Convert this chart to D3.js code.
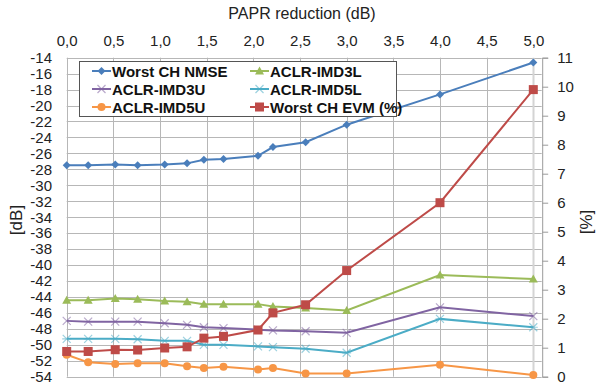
<!DOCTYPE html>
<html>
<head>
<meta charset="utf-8">
<script src="https://cdn.jsdelivr.net/npm/d3@7"></script>
<style>
  body { margin: 0; background: #fff; }
  svg { font-family: "Liberation Sans", Arial, sans-serif; }
</style>
</head>
<body>
<div id="chart-area"></div>
<script>
// PAPR reduction values (dB)
var papr = [0, 0.23, 0.52, 0.76, 1.05, 1.29, 1.47, 1.68, 2.05, 2.21, 2.56, 3.0, 4.0, 5.0];

// left axis series (dB)
var nmse = [-27.5, -27.5, -27.4, -27.5, -27.4, -27.25, -26.8, -26.7, -26.3, -25.2, -24.6, -22.4, -18.6, -14.6];
var imd3l = [-44.4, -44.4, -44.2, -44.3, -44.5, -44.6, -44.9, -44.9, -44.9, -45.2, -45.4, -45.7, -41.25, -41.75];
var imd3u = [-47.0, -47.1, -47.1, -47.1, -47.3, -47.5, -47.8, -47.9, -48.1, -48.2, -48.3, -48.5, -45.3, -46.4];
var imd5l = [-49.25, -49.25, -49.25, -49.3, -49.5, -49.5, -50.0, -50.0, -50.2, -50.3, -50.5, -51.0, -46.75, -47.8];
var imd5u = [-51.25, -52.2, -52.4, -52.3, -52.3, -52.7, -52.9, -52.75, -53.1, -52.9, -53.6, -53.6, -52.5, -53.8];

// right axis series (%)
var evm = [0.87, 0.87, 0.93, 0.92, 0.99, 1.03, 1.33, 1.39, 1.61, 2.2, 2.48, 3.66, 6.0, 9.9];

var xTicks = [0, 0.5, 1, 1.5, 2, 2.5, 3, 3.5, 4, 4.5, 5];

var series = [
  {name: "Worst CH NMSE", values: nmse, color: "#4a7ebb", marker: "diamond", axis: "left"},
  {name: "ACLR-IMD3L", values: imd3l, color: "#9bbb59", marker: "triangle", axis: "left"},
  {name: "ACLR-IMD3U", values: imd3u, color: "#8064a2", marker: "x", axis: "left"},
  {name: "ACLR-IMD5L", values: imd5l, color: "#4bacc6", marker: "star", axis: "left"},
  {name: "ACLR-IMD5U", values: imd5u, color: "#f79646", marker: "circle", axis: "left"},
  {name: "Worst CH EVM (%)", values: evm, color: "#be4b48", marker: "square", axis: "right"}
];

var width = 596, height = 390;
var plot = {left: 66.7, right: 541.7, top: 57.7, bottom: 376.7};

var svg = d3.select("#chart-area").append("svg")
  .attr("width", width)
  .attr("height", height);

var x = d3.scaleLinear().domain([0, 5.09]).range([plot.left, plot.right]);
var yL = d3.scaleLinear().domain([-54, -14]).range([plot.bottom, plot.top]);
var yR = d3.scaleLinear().domain([0, 11]).range([plot.bottom, plot.top]);

// gridlines
svg.append("g").selectAll("line").data(d3.range(-54, -13, 2))
  .enter().append("line")
  .attr("x1", plot.left).attr("x2", plot.right)
  .attr("y1", d => Math.round(yL(d)) + 0.5).attr("y2", d => Math.round(yL(d)) + 0.5)
  .attr("stroke", "#b7b7b7").attr("stroke-width", 1);

svg.append("g").selectAll("line").data(xTicks)
  .enter().append("line")
  .attr("x1", d => Math.round(x(d)) + 0.5).attr("x2", d => Math.round(x(d)) + 0.5)
  .attr("y1", plot.top).attr("y2", plot.bottom)
  .attr("stroke", d => d == 5 ? "#d4d4d4" : "#b7b7b7")
  .attr("stroke-width", d => d == 5 ? 2 : 1);

// top axis
var xAxisCall = d3.axisTop(x).tickValues(xTicks).tickSize(0).tickPadding(0)
  .tickFormat(d => d3.format(".1f")(d).replace(".", ","));
var xAxisGroup = svg.append("g")
  .attr("transform", "translate(0,46)")
  .call(xAxisCall);
xAxisGroup.select(".domain").remove();
xAxisGroup.selectAll("text").attr("font-size", "15px").attr("fill", "#222")
  .attr("font-family", "Liberation Sans, Arial, sans-serif");

// left axis (plain hyphen like the original)
var yAxisCall = d3.axisLeft(yL).tickValues(d3.range(-54, -13, 2)).tickSize(0).tickPadding(0)
  .tickFormat(d => String(d));
var yAxisGroup = svg.append("g")
  .attr("transform", "translate(52,0)")
  .call(yAxisCall);
yAxisGroup.select(".domain").remove();
yAxisGroup.selectAll("text").attr("font-size", "15px").attr("fill", "#222")
  .attr("font-family", "Liberation Sans, Arial, sans-serif");

// right axis
var yRAxisCall = d3.axisRight(yR).tickValues(d3.range(0, 12)).tickSize(6).tickPadding(9);
var yRAxisGroup = svg.append("g")
  .attr("transform", "translate(" + (plot.right + 0.5) + ",0)")
  .call(yRAxisCall);
yRAxisGroup.select(".domain").attr("stroke", "#9a9a9a");
yRAxisGroup.selectAll("line").attr("stroke", "#9a9a9a");
yRAxisGroup.selectAll("text").attr("font-size", "15px").attr("fill", "#222")
  .attr("font-family", "Liberation Sans, Arial, sans-serif");

// titles
svg.append("text")
  .attr("x", 302).attr("y", 19)
  .attr("text-anchor", "middle")
  .attr("font-size", "16px").attr("fill", "#222")
  .text("PAPR reduction (dB)");
svg.append("text")
  .attr("transform", "translate(22,220) rotate(-90)")
  .attr("text-anchor", "middle")
  .attr("font-size", "17px").attr("fill", "#222")
  .text("[dB]");
svg.append("text")
  .attr("transform", "translate(592,222) rotate(-90)")
  .attr("text-anchor", "middle")
  .attr("font-size", "17px").attr("fill", "#222")
  .text("[%]");

// markers
function drawMarker(g, type, color, cx, cy) {
  if (type == "diamond") {
    g.append("path").attr("d", "M" + cx + "," + (cy - 4) + "L" + (cx + 4) + "," + cy + "L" + cx + "," + (cy + 4) + "L" + (cx - 4) + "," + cy + "Z")
      .attr("fill", color);
  } else if (type == "square") {
    g.append("rect").attr("x", cx - 4.5).attr("y", cy - 4.5).attr("width", 9).attr("height", 9)
      .attr("fill", color);
  } else if (type == "triangle") {
    g.append("path").attr("d", "M" + cx + "," + (cy - 4.5) + "L" + (cx + 4.5) + "," + (cy + 3.5) + "L" + (cx - 4.5) + "," + (cy + 3.5) + "Z")
      .attr("fill", color);
  } else if (type == "circle") {
    g.append("circle").attr("cx", cx).attr("cy", cy).attr("r", 4).attr("fill", color);
  } else if (type == "x") {
    g.append("path").attr("d", "M" + (cx - 4) + "," + (cy - 4) + "L" + (cx + 4) + "," + (cy + 4) + "M" + (cx + 4) + "," + (cy - 4) + "L" + (cx - 4) + "," + (cy + 4))
      .attr("stroke", color).attr("stroke-width", 1.2).attr("opacity", 0.55);
  } else if (type == "star") {
    g.append("path").attr("d", "M" + (cx - 4) + "," + (cy - 4) + "L" + (cx + 4) + "," + (cy + 4) + "M" + (cx + 4) + "," + (cy - 4) + "L" + (cx - 4) + "," + (cy + 4) +
        "M" + (cx - 4.5) + "," + cy + "L" + (cx + 4.5) + "," + cy)
      .attr("stroke", color).attr("stroke-width", 1.2).attr("opacity", 0.55);
  }
}

// series
series.forEach(function (s) {
  var yScale = s.axis == "left" ? yL : yR;
  var line = d3.line().x((d, i) => x(papr[i])).y(d => yScale(d));
  var g = svg.append("g");
  g.append("path").datum(s.values)
    .attr("d", line)
    .attr("fill", "none")
    .attr("stroke", s.color)
    .attr("stroke-width", 2);
  s.values.forEach(function (v, i) {
    drawMarker(g, s.marker, s.color, x(papr[i]), yScale(v));
  });
});

// legend
var legend = svg.append("g");
legend.append("rect")
  .attr("x", 79.5).attr("y", 61.5).attr("width", 317).attr("height", 55)
  .attr("fill", "#fff").attr("stroke", "#555").attr("stroke-width", 1);

series.forEach(function (s, k) {
  var col = k % 2, row = Math.floor(k / 2);
  var lx = col == 0 ? 92 : 250;
  var ly = 71 + row * 18;
  legend.append("line")
    .attr("x1", lx).attr("x2", lx + 19)
    .attr("y1", ly).attr("y2", ly)
    .attr("stroke", s.color).attr("stroke-width", 2);
  drawMarker(legend, s.marker, s.color, lx + 9.5, ly);
  legend.append("text")
    .attr("x", lx + 20).attr("y", ly + 5.5)
    .attr("font-size", "15px")
    .attr("font-weight", "bold")
    .attr("font-family", "'Liberation Sans Narrow', 'Arial Narrow', 'Liberation Sans', sans-serif")
    .attr("fill", "#111")
    .text(s.name);
});
</script>
</body>
</html>
